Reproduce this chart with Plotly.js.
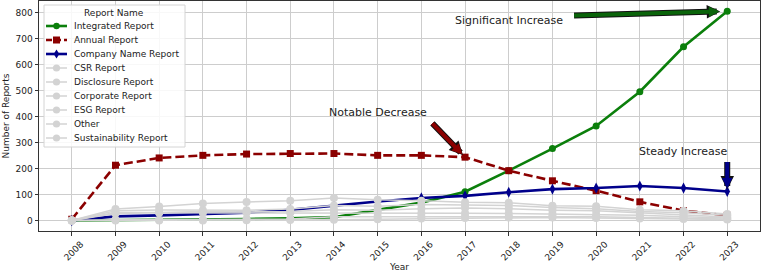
<!DOCTYPE html>
<html>
<head>
<meta charset="utf-8">
<script src="https://cdn.plot.ly/plotly-3.0.1.min.js"></script>
<style>
  html, body { margin: 0; padding: 0; background: #ffffff; }
  #chart { width: 762px; height: 272px; }
</style>
</head>
<body>
<div id="chart"></div>
<script>
// ---- data: reports published per year, by report name ----
const years = [2008, 2009, 2010, 2011, 2012, 2013, 2014, 2015, 2016, 2017, 2018, 2019, 2020, 2021, 2022, 2023];
const yearLabels = ['2008', '2009', '2010', '2011', '2012', '2013', '2014', '2015', '2016', '2017', '2018', '2019', '2020', '2021', '2022', '2023'];
const yTicks = [0, 100, 200, 300, 400, 500, 600, 700, 800];

const integratedReport     = [0, 1, 2, 3, 6, 9, 13, 41, 69, 111, 192, 277, 364, 496, 669, 806];
const annualReport         = [5, 213, 241, 251, 256, 258, 258, 251, 251, 244, 192, 153, 115, 72, 38, 20];
const companyNameReport    = [0, 16, 20, 24, 30, 41, 58, 73, 87, 95, 109, 121, 125, 133, 125, 112];
const csrReport            = [0, 44, 54, 66, 71, 76, 87, 80, 76, 70, 68, 57, 55, 42, 38, 25];
const disclosureReport     = [0, 27, 30, 30, 30, 30, 30, 30, 28, 28, 27, 25, 22, 20, 15, 10];
const corporateReport      = [0, 31, 31, 35, 33, 35, 42, 40, 45, 48, 45, 40, 38, 30, 22, 14];
const esgReport            = [0, 0, 0, 0, 1, 2, 3, 5, 8, 10, 12, 12, 10, 8, 6, 4];
const otherReport          = [0, 3, 3, 4, 5, 6, 15, 15, 15, 15, 15, 15, 15, 12, 10, 6];
const sustainabilityReport = [0, 38, 41, 40, 40, 44, 58, 55, 62, 60, 58, 50, 45, 35, 30, 20];

const seriesNames = ['Integrated Report', 'Annual Report', 'Company Name Report', 'CSR Report',
  'Disclosure Report', 'Corporate Report', 'ESG Report', 'Other', 'Sustainability Report'];
const seriesValues = [integratedReport, annualReport, companyNameReport, csrReport,
  disclosureReport, corporateReport, esgReport, otherReport, sustainabilityReport];

const legendTitle = 'Report Name';
const noteSignificant = 'Significant Increase';
const noteNotable = 'Notable Decrease';
const noteSteady = 'Steady Increase';

// ---- styles ----
const GRAY = '#d3d3d3';
const styles = [
  { color: '#0b7f0b', width: 2.6, dash: 'solid', symbol: 'circle', size: 7, legendMark: 'circle' },
  { color: '#8b0000', width: 2.6, dash: '9px,4px', symbol: 'square', size: 7, legendMark: 'square' },
  { color: '#00008b', width: 2.6, dash: 'solid', symbol: 'diamond-tall', size: 8, legendMark: 'diamond' },
];
for (let i = 3; i < seriesNames.length; i++) {
  styles.push({ color: GRAY, width: 1.5, dash: 'solid', symbol: 'circle', size: 8, legendMark: 'circle' });
}

const traces = seriesNames.map((name, i) => ({
  type: 'scatter',
  mode: 'lines+markers',
  name: name,
  x: years,
  y: seriesValues[i],
  line: { color: styles[i].color, width: styles[i].width, dash: styles[i].dash },
  marker: { color: styles[i].color, symbol: styles[i].symbol, size: styles[i].size, line: { width: 0 } },
  hoverinfo: 'skip'
}));

// ---- plot geometry (pixels) ----
const W = 762, H = 272;
const M = { l: 39, r: 2, t: 1, b: 41 };
const PW = W - M.l - M.r, PH = H - M.t - M.b;
const px = x => (x - M.l) / PW;          // page x -> paper x
const py = y => 1 - (y - M.t) / PH;      // page y -> paper y

// ---- legend panel drawn with shapes + annotations ----
const shapes = [];
const annotations = [];

shapes.push({
  type: 'rect', xref: 'paper', yref: 'paper', layer: 'above',
  x0: px(44), x1: px(185), y0: py(147), y1: py(5),
  fillcolor: 'rgba(255,255,255,0.85)', line: { color: '#d4d4d4', width: 1 }
});
annotations.push({
  xref: 'paper', yref: 'paper', x: px(114), y: py(12.5), xanchor: 'center', yanchor: 'middle',
  text: legendTitle, showarrow: false, font: { size: 9, color: '#222' }
});
seriesNames.forEach((name, i) => {
  const yy = py(26 + i * 14);
  const s = styles[i];
  shapes.push({
    type: 'line', xref: 'paper', yref: 'paper', layer: 'above',
    x0: px(46), x1: px(67), y0: yy, y1: yy,
    line: { color: s.color, width: s.width, dash: i === 1 ? '6px,3px' : 'solid' }
  });
  const base = { xref: 'paper', yref: 'paper', layer: 'above', xsizemode: 'pixel', ysizemode: 'pixel',
    xanchor: px(56.5), yanchor: yy, fillcolor: s.color, line: { width: 0 } };
  if (s.legendMark === 'circle') {
    const r = i < 3 ? 3.2 : 3.6;
    shapes.push(Object.assign({ type: 'circle', x0: -r, x1: r, y0: -r, y1: r }, base));
  } else if (s.legendMark === 'square') {
    shapes.push(Object.assign({ type: 'rect', x0: -3.5, x1: 3.5, y0: -3.5, y1: 3.5 }, base));
  } else {
    shapes.push(Object.assign({ type: 'path', path: 'M0,-4.5 L2.8,0 L0,4.5 L-2.8,0 Z' }, base));
  }
  annotations.push({
    xref: 'paper', yref: 'paper', x: px(71.5), y: yy, xanchor: 'left', yanchor: 'middle',
    text: name, showarrow: false, font: { size: 9, color: '#222' }
  });
});

// ---- call-out notes with outlined arrows ----
function note(text, tx, ty) {
  annotations.push({ xref: 'x', yref: 'y', x: tx, y: ty, xanchor: 'center', yanchor: 'middle',
    text: text, showarrow: false, font: { size: 11, color: '#222' } });
}
function arrow(x, y, ax, ay, fill, standoff) {
  const common = { xref: 'x', yref: 'y', axref: 'x', ayref: 'y', x: x, y: y, ax: ax, ay: ay,
    text: '', showarrow: true, arrowhead: 2 };
  annotations.push(Object.assign({}, common, { arrowcolor: '#111', arrowwidth: 6, arrowsize: 0.45, standoff: standoff - 1 }));
  annotations.push(Object.assign({}, common, { arrowcolor: fill, arrowwidth: 4, arrowsize: 0.52, standoff: standoff }));
}

const last = years.length - 1;
const i2017 = years.indexOf(2017);
note(noteSignificant, 2018.0, 772);
arrow(years[last], integratedReport[last], 2019.46, 789, '#0a640a', 8);
note(noteNotable, 2015.0, 415);
arrow(years[i2017], annualReport[i2017], 2016.22, 380, '#8b0000', 4);
note(noteSteady, 2022.0, 265);
arrow(years[last], companyNameReport[last], 2023.0, 231, '#00008b', 3);

const layout = {
  width: W, height: H,
  margin: { l: M.l, r: M.r, t: M.t, b: M.b, pad: 0 },
  paper_bgcolor: '#ffffff', plot_bgcolor: '#ffffff',
  font: { family: 'DejaVu Sans, sans-serif', size: 9, color: '#222' },
  showlegend: false,
  xaxis: {
    range: [2007.25, 2023.75],
    tickmode: 'array', tickvals: years, ticktext: yearLabels,
    tickangle: -45, ticklabelshift: 9,
    ticks: 'outside', ticklen: 3.5, tickcolor: '#333', tickwidth: 1,
    showgrid: true, gridcolor: '#cdcdcd', gridwidth: 1,
    zeroline: false, showline: true, linecolor: '#333', linewidth: 1, mirror: true,
    tickfont: { size: 9, color: '#222' },
    title: { text: 'Year', font: { size: 9, color: '#222' }, standoff: 2 }
  },
  yaxis: {
    range: [-40.3, 845.3],
    tickmode: 'array', tickvals: yTicks, ticktext: yTicks.map(String),
    ticks: 'outside', ticklen: 3.5, tickcolor: '#333', tickwidth: 1,
    showgrid: true, gridcolor: '#cdcdcd', gridwidth: 1,
    zeroline: false, showline: true, linecolor: '#333', linewidth: 1, mirror: true,
    tickfont: { size: 9, color: '#222' },
    title: { text: 'Number of Reports', font: { size: 9, color: '#222' }, standoff: 4 }
  },
  shapes: shapes,
  annotations: annotations
};

Plotly.newPlot('chart', traces, layout, { staticPlot: true, displayModeBar: false });
</script>
</body>
</html>
